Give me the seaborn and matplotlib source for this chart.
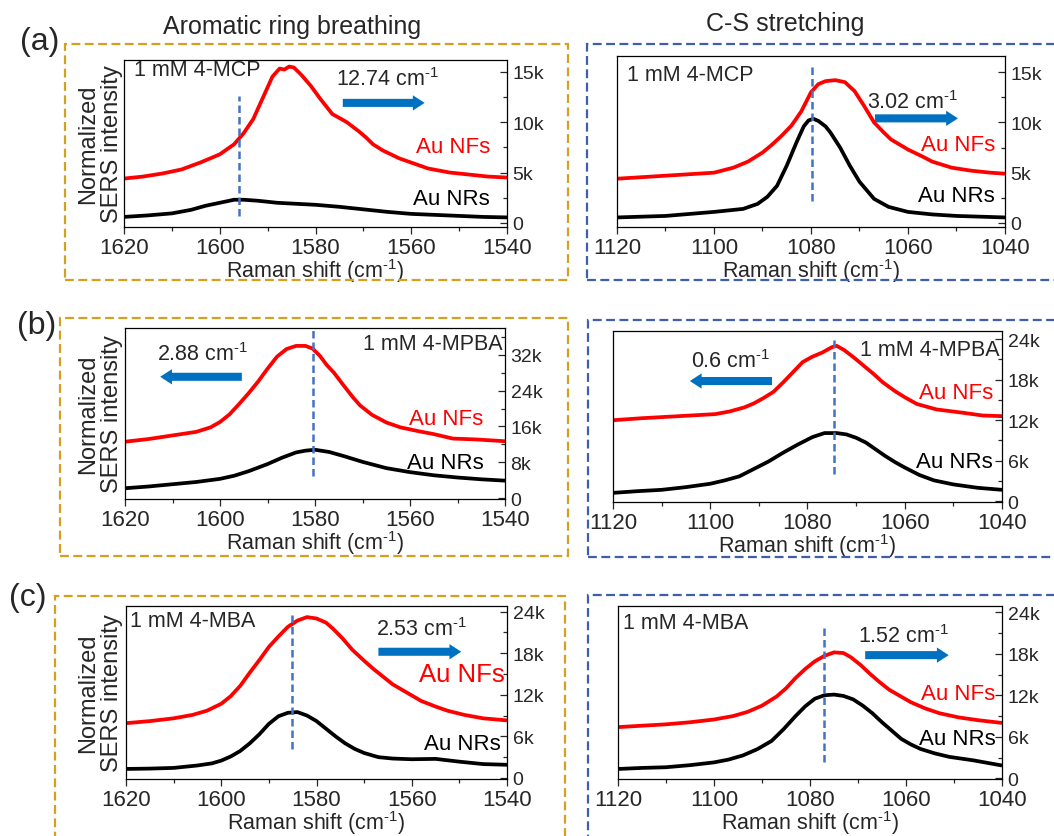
import numpy as np
import pandas as pd
import matplotlib
matplotlib.use('Agg')
import matplotlib.pyplot as plt
from matplotlib.patches import Rectangle
from matplotlib.ticker import MultipleLocator, FuncFormatter
import seaborn as sns

# ---------------- data (intensity in thousands of counts) ----------------
# Row (a) 4-MCP, ring breathing
a_ring_nf_x = [1620, 1616, 1612, 1608, 1604, 1600, 1597, 1595, 1593, 1591, 1589, 1587.5, 1586.5, 1585.5,
               1584.5, 1583, 1581, 1579, 1576.5, 1573.5, 1571, 1569.5, 1568, 1566, 1562.5, 1559.5, 1556.5,
               1552, 1548, 1544, 1540]
a_ring_nf_y = [4.4, 4.6, 4.9, 5.3, 6.0, 6.8, 7.8, 8.9, 10.3, 12.4, 14.5, 15.3, 15.2, 15.5,
               15.4, 14.7, 13.6, 12.3, 10.8, 10.0, 9.1, 8.5, 7.8, 7.2, 6.4, 5.9, 5.4,
               5.0, 4.8, 4.6, 4.5]
a_ring_nr_x = [1620, 1615, 1610, 1606, 1603, 1600, 1597, 1595, 1592, 1588, 1584, 1580, 1575, 1570, 1565,
               1560, 1555, 1550, 1545, 1540]
a_ring_nr_y = [0.6, 0.75, 0.95, 1.3, 1.7, 2.0, 2.3, 2.3, 2.2, 2.0, 1.9, 1.8, 1.6, 1.35, 1.1,
               0.9, 0.8, 0.7, 0.6, 0.55]
# Row (a) 4-MCP, C-S stretching
a_cs_nf_x = [1120, 1115, 1110, 1105, 1100, 1096, 1093, 1090, 1088, 1086, 1084, 1082, 1080, 1078.5, 1077,
             1075, 1073, 1071, 1069, 1067, 1065, 1063.5, 1060, 1057, 1055, 1051, 1047, 1043, 1040]
a_cs_nf_y = [4.4, 4.55, 4.7, 4.85, 5.0, 5.5, 6.1, 7.0, 7.8, 8.7, 9.7, 11.1, 13.0, 13.8, 14.1,
             14.2, 14.0, 13.1, 11.6, 10.0, 9.0, 8.3, 7.3, 6.6, 6.1, 5.5, 5.2, 5.0, 4.9]
a_cs_nr_x = [1120, 1110, 1100, 1094, 1091, 1089, 1087, 1085, 1083, 1081.5, 1080.5, 1079.5, 1078.5, 1077,
             1076, 1074, 1072, 1070, 1067, 1064, 1060, 1055, 1050, 1040]
a_cs_nr_y = [0.55, 0.7, 1.1, 1.4, 1.9, 2.6, 3.7, 5.7, 8.0, 9.6, 10.2, 10.35, 10.15, 9.6,
             9.0, 7.5, 5.7, 4.1, 2.4, 1.6, 1.1, 0.85, 0.7, 0.55]

# Row (b) 4-MPBA, ring breathing
b_ring_nf_x = [1620, 1615, 1610, 1605, 1602, 1600, 1598, 1596, 1594, 1592, 1590, 1588, 1586, 1584, 1582,
               1580.5, 1579, 1577.5, 1576, 1574, 1572, 1570.5, 1568, 1565, 1562, 1558, 1555, 1551, 1546, 1540]
b_ring_nf_y = [12.6, 13.2, 14.0, 14.8, 15.8, 17.0, 18.7, 21.0, 23.4, 26.0, 28.9, 31.6, 33.3, 34.0, 34.0,
               33.4, 31.8, 29.7, 28.0, 25.2, 22.5, 20.7, 18.6, 16.9, 15.8, 14.9, 14.3, 13.3, 13.1, 12.7]
b_ring_nr_x = [1620, 1615, 1610, 1605, 1600, 1597, 1594, 1590, 1587, 1584, 1582, 1580, 1577, 1574, 1570,
               1565, 1560, 1555, 1550, 1545, 1540]
b_ring_nr_y = [2.2, 2.6, 3.1, 3.6, 4.3, 5.0, 6.0, 7.6, 9.0, 10.2, 10.6, 10.8, 10.3, 9.4, 8.1,
               6.7, 5.8, 5.1, 4.6, 4.2, 3.9]
# Row (b) 4-MPBA, C-S stretching
b_cs_nf_x = [1120, 1114, 1109, 1104, 1099, 1096, 1093, 1091, 1089, 1087, 1085, 1083, 1081, 1079, 1077,
             1075, 1074, 1072.5, 1070.5, 1068.5, 1066.5, 1064.5, 1062, 1060, 1057.5, 1053.5, 1048, 1044, 1040]
b_cs_nf_y = [12.0, 12.3, 12.5, 12.7, 12.9, 13.3, 13.9, 14.5, 15.3, 16.2, 17.6, 19.1, 20.6, 21.4, 22.0,
             22.8, 23.0, 22.4, 21.3, 20.1, 18.9, 17.6, 16.3, 15.4, 14.4, 13.6, 13.1, 12.7, 12.6]
b_cs_nr_x = [1120, 1115, 1110, 1105, 1100, 1097, 1094, 1091, 1088, 1085, 1082, 1079, 1076.5, 1074, 1072,
             1070, 1068, 1066, 1064, 1062, 1060, 1057, 1054, 1050, 1045, 1040]
b_cs_nr_y = [1.25, 1.5, 1.7, 2.1, 2.6, 3.1, 3.7, 4.8, 5.9, 7.2, 8.4, 9.5, 10.1, 10.1, 9.9,
             9.4, 8.7, 7.7, 6.7, 5.8, 5.0, 3.9, 3.1, 2.5, 2.0, 1.7]

# Row (c) 4-MBA, ring breathing
c_ring_nf_x = [1620, 1615, 1610, 1606, 1603, 1600, 1598, 1596, 1594, 1592, 1590, 1588, 1586, 1584, 1582,
               1580, 1578, 1576.5, 1574.5, 1572.5, 1570, 1568, 1566, 1564, 1561, 1558, 1555, 1552.5, 1549,
               1545, 1540]
c_ring_nf_y = [7.9, 8.2, 8.6, 9.1, 9.7, 10.7, 11.8, 13.3, 15.2, 17.0, 18.9, 20.4, 21.8, 22.7, 23.2,
               23.0, 22.4, 21.5, 20.1, 18.5, 16.9, 15.7, 14.6, 13.5, 12.3, 11.1, 10.3, 9.7, 9.1,
               8.6, 8.3]
c_ring_nr_x = [1620, 1615, 1610, 1605, 1602, 1600, 1598, 1596, 1594, 1592, 1590, 1588, 1586, 1584, 1582,
               1580, 1578, 1576, 1574, 1572, 1570, 1567, 1564, 1560, 1555, 1550, 1545, 1540]
c_ring_nr_y = [1.3, 1.35, 1.45, 1.8, 2.1, 2.5, 3.1, 3.9, 5.0, 6.3, 7.8, 8.9, 9.4, 9.5, 9.0,
               8.2, 7.1, 6.0, 5.0, 4.2, 3.6, 3.0, 2.8, 2.7, 2.75, 2.35, 2.0, 1.9]
# Row (c) 4-MBA, C-S stretching
c_cs_nf_x = [1120, 1115, 1110, 1105, 1100, 1096, 1093, 1090, 1087, 1085, 1083, 1081, 1079, 1077, 1075,
             1073, 1071.5, 1069.5, 1067.5, 1065.5, 1063.5, 1061, 1059, 1056, 1053, 1049, 1045, 1040]
c_cs_nf_y = [7.4, 7.6, 7.8, 8.1, 8.5, 9.0, 9.6, 10.5, 11.8, 13.0, 14.5, 15.8, 16.9, 17.7, 18.2,
             18.1, 17.5, 16.4, 15.1, 13.9, 12.8, 11.8, 11.0, 10.1, 9.4, 8.8, 8.4, 8.0]
c_cs_nr_x = [1120, 1115, 1110, 1105, 1100, 1097, 1094, 1091, 1088, 1085.5, 1083, 1081, 1079, 1077, 1075,
             1073, 1071, 1069, 1067, 1065, 1063, 1061, 1059, 1057, 1054, 1051, 1046, 1040]
c_cs_nr_y = [1.35, 1.5, 1.6, 1.9, 2.3, 2.7, 3.3, 4.2, 5.4, 7.1, 9.0, 10.4, 11.5, 12.0, 12.1,
             11.9, 11.4, 10.5, 9.4, 8.1, 6.9, 5.7, 4.9, 4.25, 3.6, 3.1, 2.6, 1.85]

# peak positions marked by dashed lines (cm^-1) and shift labels
peak_marks = [1596.0, 1079.7, 1580.4, 1074.5, 1585.1, 1077.1]
shift_labels = ['12.74', '3.02', '2.88', '0.6', '2.53', '1.52']
molecules = ['4-MCP', '4-MCP', '4-MPBA', '4-MPBA', '4-MBA', '4-MBA']
column_titles = ['Aromatic ring breathing', 'C-S stretching']
row_labels = ['(a)', '(b)', '(c)']

# ---------------- style ----------------
sns.set_style('ticks')
plt.rcParams['font.family'] = ['Liberation Sans', 'DejaVu Sans']
plt.rcParams['mathtext.fontset'] = 'custom'
plt.rcParams['mathtext.rm'] = 'Liberation Sans'
plt.rcParams['mathtext.default'] = 'regular'

W, H = 1054, 837
fig = plt.figure(figsize=(W / 100, H / 100), dpi=100)

RED = '#FF0000'
ARROW = '#0070C0'
DASH = '#4472C4'
GOLD = '#D4A020'
BLUE = '#3F5FAE'
INV = '$^{\u20101}$'  # superscript hyphen-one

panels = [
    dict(box=(124, 61, 507, 228), xlim=(1620, 1540), ylim=(-0.4, 16.15), ymaj=5,
         nf=(a_ring_nf_x, a_ring_nf_y), nr=(a_ring_nr_x, a_ring_nr_y),
         dash=(0.7, 12.6), arrow=(1574.3, 1557.2, 11.9), stext=(1565, 14.3),
         mol=(1618, 15.2, 'left'), nftext=(1543.5, 7.6, 16), nrtext=(1543.5, 2.4)),
    dict(box=(617, 57, 1005, 228), xlim=(1120, 1040), ylim=(-0.4, 16.6), ymaj=5,
         nf=(a_cs_nf_x, a_cs_nf_y), nr=(a_cs_nr_x, a_cs_nr_y),
         dash=(2.2, 15.6), arrow=(1066.8, 1049.7, 10.4), stext=(1059, 12.1),
         mol=(1118, 14.8, 'left'), nftext=(1042.1, 7.8, 16), nrtext=(1042.1, 2.7)),
    dict(box=(125, 329, 505, 500), xlim=(1620, 1540), ylim=(-0.2, 38.0), ymaj=8,
         nf=(b_ring_nf_x, b_ring_nf_y), nr=(b_ring_nr_x, b_ring_nr_y),
         dash=(5.0, 37.9), arrow=(1595.4, 1612.6, 27.1), stext=(1603.6, 32.3),
         mol=(1540.4, 34.5, 'right'), nftext=(1544.5, 17.7, 16), nrtext=(1544.5, 8.0)),
    dict(box=(613, 332, 1002, 503), xlim=(1120, 1040), ylim=(-0.1, 25.2), ymaj=6,
         nf=(b_cs_nf_x, b_cs_nf_y), nr=(b_cs_nr_x, b_cs_nr_y),
         dash=(4.0, 24.4), arrow=(1087.3, 1104.2, 17.8), stext=(1095.9, 20.8),
         mol=(1040.4, 22.5, 'right'), nftext=(1041.8, 16.1, 16), nrtext=(1041.8, 5.9)),
    dict(box=(126, 607, 507, 780), xlim=(1620, 1540), ylim=(-0.15, 24.8), ymaj=6,
         nf=(c_ring_nf_x, c_ring_nf_y), nr=(c_ring_nr_x, c_ring_nr_y),
         dash=(4.2, 23.6), arrow=(1567.0, 1549.6, 18.2), stext=(1558, 21.5),
         mol=(1619.2, 22.7, 'left'), nftext=(1540.4, 15.0, 18.5), nrtext=(1541.4, 4.9)),
    dict(box=(618, 607, 1002, 780), xlim=(1120, 1040), ylim=(-0.1, 24.9), ymaj=6,
         nf=(c_cs_nf_x, c_cs_nf_y), nr=(c_cs_nr_x, c_cs_nr_y),
         dash=(2.4, 21.8), arrow=(1068.5, 1051.1, 17.8), stext=(1060.5, 20.7),
         mol=(1119, 22.5, 'left'), nftext=(1041.4, 12.2, 16), nrtext=(1041.4, 5.7)),
]

kfmt = FuncFormatter(lambda v, p: '0' if abs(v) < 1e-9 else f'{v:g}k')
line_kw = dict(linewidth=2.7, estimator=None, solid_joinstyle='round', solid_capstyle='butt')

for i, p in enumerate(panels):
    x0, y0, x1, y1 = p['box']
    ax = fig.add_axes([x0 / W, 1 - y1 / H, (x1 - x0) / W, (y1 - y0) / H])
    df_nf = pd.DataFrame({'shift': p['nf'][0], 'intensity': p['nf'][1]})
    df_nr = pd.DataFrame({'shift': p['nr'][0], 'intensity': p['nr'][1]})
    sns.lineplot(data=df_nf, x='shift', y='intensity', ax=ax, color=RED, **line_kw)
    sns.lineplot(data=df_nr, x='shift', y='intensity', ax=ax, color='black', **line_kw)
    ax.set_xlim(*p['xlim'])
    ax.set_ylim(*p['ylim'])
    ax.xaxis.set_major_locator(MultipleLocator(20))
    ax.xaxis.set_minor_locator(MultipleLocator(10))
    ax.yaxis.set_major_locator(MultipleLocator(p['ymaj']))
    ax.yaxis.set_minor_locator(MultipleLocator(p['ymaj'] / 2))
    ax.yaxis.set_major_formatter(kfmt)
    ax.yaxis.tick_right()
    ax.tick_params(axis='y', which='both', direction='in', left=False, right=True,
                   labelleft=False, labelright=True, labelsize=14, pad=4, width=0.9)
    ax.tick_params(axis='y', which='major', length=5)
    ax.tick_params(axis='y', which='minor', length=3)
    ax.tick_params(axis='x', which='both', direction='out', bottom=True, top=False,
                   labelsize=16, pad=2, width=0.9)
    ax.tick_params(axis='x', which='major', length=5)
    ax.tick_params(axis='x', which='minor', length=3)
    for s in ax.spines.values():
        s.set_linewidth(0.9)
        s.set_color('black')
    ax.set_xlabel('Raman shift (cm' + INV + ')', fontsize=15.5, labelpad=-1)
    ax.set_ylabel('')

    # dashed peak marker
    ax.vlines(peak_marks[i], p['dash'][0], p['dash'][1], colors=DASH, linestyles=(0, (3, 1.6)), linewidth=1.8)
    # shift arrow
    xt, xh, ya = p['arrow']
    ax.annotate('', xy=(xh, ya), xytext=(xt, ya),
                arrowprops=dict(arrowstyle='simple,head_length=0.85,head_width=1.1,tail_width=0.58',
                                mutation_scale=10, color=ARROW, shrinkA=0, shrinkB=0, lw=0))
    ax.text(p['stext'][0], p['stext'][1], shift_labels[i] + ' cm' + INV, fontsize=15.5,
            ha='center', va='center')
    mx, my, mha = p['mol']
    ax.text(mx, my, '1 mM ' + molecules[i], fontsize=15.5, ha=mha, va='center')
    ax.text(p['nftext'][0], p['nftext'][1], 'Au NFs', color=RED, fontsize=p['nftext'][2], ha='right', va='center')
    ax.text(p['nrtext'][0], p['nrtext'][1], 'Au NRs', color='black', fontsize=16, ha='right', va='center')

    if i % 2 == 0:
        cy = 1 - (y0 + y1) / 2 / H
        fig.text(100 / W, cy, 'Normalized\nSERS intensity', rotation=90, ha='center', va='center',
                 fontsize=17, multialignment='center', linespacing=1.08)

# column titles
fig.text(292 / W, 1 - 27 / H, column_titles[0], fontsize=18, ha='center', va='center')
fig.text(785 / W, 1 - 24 / H, column_titles[1], fontsize=18, ha='center', va='center')

# row labels
for lab, (lx, ly) in zip(row_labels, [(40, 42), (37, 326), (28, 598)]):
    fig.text(lx / W, 1 - ly / H, lab, fontsize=23, ha='center', va='center')

# dashed frames
frames = [
    (65, 45, 568, 281, GOLD), (587, 45, 1060, 281, BLUE),
    (60, 319, 568, 557, GOLD), (588, 321, 1060, 558, BLUE),
    (55, 597, 565, 850, GOLD), (588, 596, 1060, 850, BLUE),
]
for fx0, fy0, fx1, fy1, col in frames:
    fig.add_artist(Rectangle((fx0 / W, 1 - fy1 / H), (fx1 - fx0) / W, (fy1 - fy0) / H,
                             transform=fig.transFigure, fill=False, edgecolor=col,
                             linestyle=(0, (4, 2)), linewidth=1.6, clip_on=False))

fig.savefig('out.png', dpi=100)
